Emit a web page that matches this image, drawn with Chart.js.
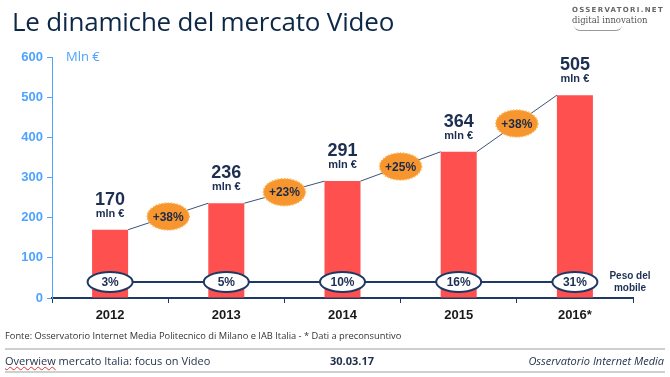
<!DOCTYPE html>
<html>
<head>
<meta charset="utf-8">
<script src="https://cdn.jsdelivr.net/npm/chart.js"></script>
<style>
  body { margin: 0; background: #fff; }
  #wrap { position: relative; width: 670px; height: 377px; overflow: hidden; font-family: 'Open Sans', sans-serif; }
  #chart { position: absolute; left: 0; top: 0; }
  .title { position: absolute; left: 12px; top: 3px; font-size: 26px; color: #0d2847; letter-spacing: -0.2px; }
  .logo { position: absolute; right: 6px; top: 5px; text-align: left; color: #555; line-height: 10px; }
  .logo .l1 { font-family: 'DejaVu Sans', sans-serif; font-size: 7px; letter-spacing: 1.3px; font-weight: bold; color: #666; }
  .logo .l2 { font-family: 'DejaVu Serif', serif; font-size: 8.5px; color: #555; }
  .logo .arc { width: 48px; height: 5px; border-bottom: 1px solid #999; border-radius: 0 0 40px 40px; margin-left: 2px; }
  .src { position: absolute; left: 5px; top: 329px; font-size: 9.3px; color: #333; }
  .hr { position: absolute; left: 5px; width: 660px; height: 2px; background: #cfcfcf; }
  .foot { position: absolute; top: 353px; font-size: 11px; color: #1f2f4a; }
  .wavy { text-decoration: underline wavy #e03030; text-decoration-thickness: 1px; }
</style>
</head>
<body>
<div id="wrap">
  <canvas id="chart" width="670" height="377"></canvas>
  <div class="title">Le dinamiche del mercato Video</div>
  <div class="logo">
    <div class="l1">OSSERVATORI.NET</div>
    <div class="l2">digital innovation</div>
    <div class="arc"></div>
  </div>
  <div class="src">Fonte: Osservatorio Internet Media Politecnico di Milano e IAB Italia - * Dati a preconsuntivo</div>
  <div class="hr" style="top:348px"></div>
  <div class="foot" style="left:5px"><span class="wavy">Overwiew</span> mercato Italia: focus on Video</div>
  <div class="foot" style="left:330px;font-weight:bold">30.03.17</div>
  <div class="foot" style="right:6px;font-style:italic">Osservatorio Internet Media</div>
  <div class="hr" style="top:371px"></div>
</div>
<script>
// Video market data (mln €)
const years = ['2012', '2013', '2014', '2015', '2016*'];
const marketValues = [170, 236, 291, 364, 505];
const growthLabels = ['+38%', '+23%', '+25%', '+38%'];
const mobileShare = ['3%', '5%', '10%', '16%', '31%'];
const mobileRowLevel = 40;
const yMax = 600;
const yStep = 100;

const navy = '#1f3864';
const lightBlue = '#4da3ff';

const overlayPlugin = {
  id: 'overlay',
  afterDatasetsDraw(chart) {
    const ctx = chart.ctx;
    const meta = chart.getDatasetMeta(0);
    const yScale = chart.scales.y;
    const area = chart.chartArea;
    ctx.save();

    // connectors between bar tops
    ctx.strokeStyle = '#3d5275';
    ctx.lineWidth = 1;
    for (let i = 0; i < meta.data.length - 1; i++) {
      const a = meta.data[i], b = meta.data[i + 1];
      ctx.beginPath();
      ctx.moveTo(a.x + a.width / 2, a.y);
      ctx.lineTo(b.x - b.width / 2, b.y);
      ctx.stroke();
    }

    // growth badges
    for (let i = 0; i < meta.data.length - 1; i++) {
      const a = meta.data[i], b = meta.data[i + 1];
      const cx = ((a.x + a.width / 2) + (b.x - b.width / 2)) / 2;
      const cy = (a.y + b.y) / 2;
      ctx.beginPath();
      ctx.ellipse(cx, cy, 21, 13.5, 0, 0, Math.PI * 2);
      ctx.fillStyle = '#f7962f';
      ctx.fill();
      ctx.setLineDash([1.5, 1.5]);
      ctx.strokeStyle = '#fbb456';
      ctx.lineWidth = 1.5;
      ctx.stroke();
      ctx.setLineDash([]);
      ctx.fillStyle = '#1b2a48';
      ctx.font = 'bold 12px "Liberation Sans", Arial, sans-serif';
      ctx.textAlign = 'center';
      ctx.textBaseline = 'middle';
      ctx.fillText(growthLabels[i], cx, cy + 1);
    }

    // value labels
    ctx.fillStyle = '#1c2f52';
    ctx.textAlign = 'center';
    ctx.textBaseline = 'alphabetic';
    meta.data.forEach((bar, i) => {
      ctx.font = 'bold 18px "Liberation Sans", Arial, sans-serif';
      ctx.fillText(String(marketValues[i]), bar.x, bar.y - 25);
      ctx.font = 'bold 11px "Liberation Sans", Arial, sans-serif';
      ctx.fillText('mln €', bar.x, bar.y - 13);
    });

    // mobile share row
    const rowY = yScale.getPixelForValue(mobileRowLevel);
    const first = meta.data[0], last = meta.data[meta.data.length - 1];
    ctx.strokeStyle = navy;
    ctx.lineWidth = 2;
    ctx.beginPath();
    ctx.moveTo(first.x, rowY);
    ctx.lineTo(last.x, rowY);
    ctx.stroke();
    meta.data.forEach((bar, i) => {
      ctx.beginPath();
      ctx.ellipse(bar.x, rowY, 22.5, 10, 0, 0, Math.PI * 2);
      ctx.fillStyle = '#fff';
      ctx.fill();
      ctx.strokeStyle = navy;
      ctx.lineWidth = 2;
      ctx.stroke();
      ctx.fillStyle = '#1c2f52';
      ctx.font = 'bold 12px "Liberation Sans", Arial, sans-serif';
      ctx.textBaseline = 'middle';
      ctx.fillText(mobileShare[i], bar.x, rowY + 1);
    });

    ctx.fillStyle = '#1c2f52';
    ctx.font = 'bold 10px "Liberation Sans", Arial, sans-serif';
    ctx.textAlign = 'center';
    ctx.fillText('Peso del', area.right - 3, rowY - 6);
    ctx.fillText('mobile', area.right - 3, rowY + 6);

    // unit label
    ctx.fillStyle = lightBlue;
    ctx.font = '13px "Open Sans", sans-serif';
    ctx.textAlign = 'left';
    ctx.fillText('Mln €', area.left + 14, yScale.getPixelForValue(yMax));
    ctx.restore();
  }
};

new Chart(document.getElementById('chart'), {
  type: 'bar',
  data: {
    labels: years,
    datasets: [{
      data: marketValues,
      backgroundColor: '#ff5050',
      categoryPercentage: 1,
      barPercentage: 0.31
    }]
  },
  options: {
    responsive: false,
    devicePixelRatio: 1,
    animation: false,
    layout: { padding: { left: 0, top: 57, right: 37, bottom: 49 } },
    plugins: { legend: { display: false }, tooltip: { enabled: false } },
    scales: {
      x: {
        afterFit: s => { s.height = 30; },
        border: { color: navy, width: 2 },
        grid: { offset: true, drawOnChartArea: false, drawTicks: true, tickLength: 5, color: navy, lineWidth: 1 },
        ticks: { color: '#1a1a1a', font: { family: 'Liberation Sans', size: 13, weight: 'bold' }, padding: 5 }
      },
      y: {
        min: 0,
        max: yMax,
        afterFit: s => { s.width = 52; },
        border: { color: lightBlue, width: 1 },
        grid: { drawOnChartArea: false, drawTicks: true, tickLength: 5, color: lightBlue },
        ticks: { stepSize: yStep, color: lightBlue, padding: 4, font: { family: 'Liberation Sans', size: 13, weight: 'bold' } }
      }
    }
  },
  plugins: [overlayPlugin]
});
</script>
</body>
</html>
